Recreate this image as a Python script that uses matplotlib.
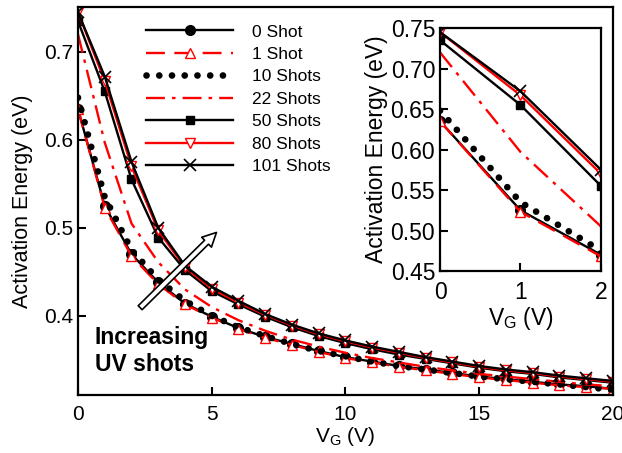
import matplotlib
matplotlib.use('Agg')
import matplotlib.pyplot as plt

plt.rcParams['font.family'] = ['Liberation Sans', 'DejaVu Sans']
plt.rcParams['mathtext.fontset'] = 'custom'
plt.rcParams['mathtext.rm'] = 'Liberation Sans'
plt.rcParams['mathtext.it'] = 'Liberation Sans'

# gate voltage (V)
vg = list(range(21))

# activation energy (eV) for each UV dose
shot0 = [0.635, 0.525, 0.470, 0.438, 0.414, 0.399, 0.386, 0.376, 0.368, 0.360, 0.353,
         0.348, 0.343, 0.339, 0.335, 0.331, 0.328, 0.325, 0.322, 0.320, 0.317]
shot1 = [0.635, 0.523, 0.468, 0.436, 0.413, 0.398, 0.385, 0.375, 0.367, 0.359, 0.352,
         0.347, 0.342, 0.338, 0.334, 0.330, 0.327, 0.324, 0.321, 0.319, 0.317]
shot10 = [0.648, 0.535, 0.475, 0.441, 0.417, 0.400, 0.387, 0.377, 0.368, 0.360, 0.354,
          0.348, 0.343, 0.339, 0.335, 0.331, 0.328, 0.325, 0.322, 0.319, 0.316]
shot22 = [0.720, 0.597, 0.505, 0.461, 0.430, 0.410, 0.395, 0.383, 0.373, 0.365, 0.358,
          0.352, 0.347, 0.342, 0.338, 0.334, 0.331, 0.328, 0.325, 0.322, 0.320]
shot50 = [0.735, 0.655, 0.555, 0.489, 0.452, 0.428, 0.413, 0.399, 0.387, 0.377, 0.369,
          0.362, 0.356, 0.351, 0.346, 0.341, 0.337, 0.334, 0.330, 0.327, 0.324]
shot80 = [0.745, 0.667, 0.570, 0.497, 0.455, 0.431, 0.415, 0.401, 0.389, 0.379, 0.371,
          0.364, 0.358, 0.352, 0.347, 0.342, 0.338, 0.335, 0.331, 0.328, 0.325]
shot101 = [0.745, 0.672, 0.575, 0.500, 0.457, 0.433, 0.417, 0.402, 0.390, 0.380, 0.372,
           0.365, 0.359, 0.353, 0.348, 0.343, 0.339, 0.336, 0.332, 0.329, 0.326]

labels = ['0 Shot', '1 Shot', '10 Shots', '22 Shots', '50 Shots', '80 Shots', '101 Shots']
series = [shot0, shot1, shot10, shot22, shot50, shot80, shot101]

styles = [
    dict(color='black', ls='-', marker='o', ms=7, mfc='black'),
    dict(color='red', ls=(0, (8, 4)), marker='^', ms=7, mfc='white'),
    dict(color='black', ls=(0, (0.01, 1.9)), lw=4.8, dash_capstyle='round'),
    dict(color='red', ls=(0, (8, 3, 1.5, 3))),
    dict(color='black', ls='-', marker='s', ms=5.5, mfc='black'),
    dict(color='red', ls='-', marker='v', ms=7, mfc='white'),
    dict(color='black', ls='-', marker='x', ms=8, mew=1.2),
]


def draw(ax, n, fs):
    for y, lab, st in zip(series, labels, styles):
        st = dict(st)
        st.setdefault('lw', 1.7)
        ax.plot(vg[:n], y[:n], label=lab, **st)
    ax.tick_params(direction='in', length=6, width=1.5, labelsize=fs)
    for s in ax.spines.values():
        s.set_linewidth(1.6)


fig = plt.figure(figsize=(6.22, 4.53), dpi=100)
ax = fig.add_axes([0.1254, 0.128, 0.8601, 0.8565])
draw(ax, len(vg), 15)
ax.set_xlim(0, 20)
ax.set_ylim(0.31, 0.751)
ax.set_xticks([0, 5, 10, 15, 20])
ax.set_yticks([0.4, 0.5, 0.6, 0.7])
ax.set_yticklabels(['0.4', '0.5', '0.6', '0.7'])
ax.tick_params(axis='x', pad=7)
ax.set_xlabel('V$_\\mathrm{G}$ (V)', fontsize=15, labelpad=1)
ax.set_ylabel('Activation Energy (eV)', fontsize=15.5, labelpad=8)

leg = ax.legend(loc='upper left', bbox_to_anchor=(0.095, 1.0), frameon=False,
                fontsize=12.5, handlelength=5.0, handletextpad=1.1,
                labelspacing=0.42, borderaxespad=0.6)

ax.annotate('', xy=(5.25, 0.497), xytext=(2.25, 0.407),
            arrowprops=dict(arrowstyle='simple,head_width=1.0,head_length=1.0,tail_width=0.4',
                            fc='white', ec='black', lw=1.2))
ax.text(0.62, 0.388, 'Increasing\nUV shots', fontsize=16.5, fontweight='bold',
        va='top', ha='left', linespacing=1.22)

ins = fig.add_axes([0.7074, 0.4018, 0.2588, 0.5362])
draw(ins, 3, 16.5)
ins.set_xlim(0, 2)
ins.set_ylim(0.45, 0.75)
ins.set_xticks([0, 1, 2])
ins.set_yticks([0.45, 0.50, 0.55, 0.60, 0.65, 0.70, 0.75])
ins.set_yticklabels(['0.45', '0.50', '0.55', '0.60', '0.65', '0.70', '0.75'])
ins.tick_params(axis='x', pad=7)
ins.set_xlabel('V$_\\mathrm{G}$ (V)', fontsize=16.5, labelpad=1)
ins.set_ylabel('Activation Energy (eV)', fontsize=16.5, labelpad=2)

fig.savefig('out.png', dpi=100)
